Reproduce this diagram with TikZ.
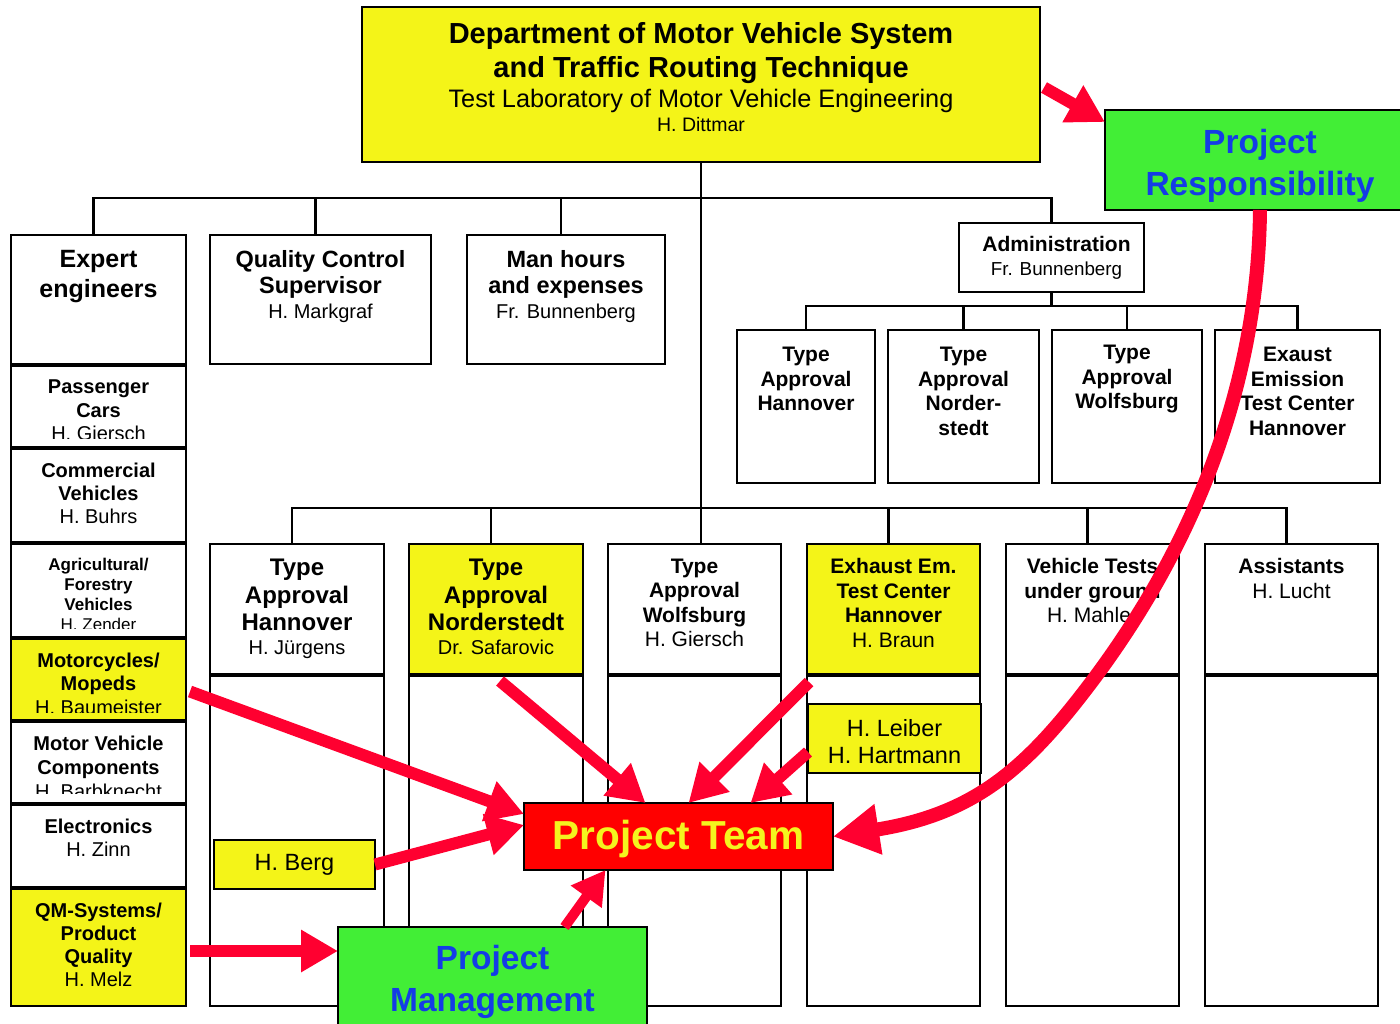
\documentclass[tikz,border=0pt]{standalone}
\usepackage{fontspec}
\setmainfont{Liberation Sans}
\usetikzlibrary{positioning,arrows.meta}
\definecolor{yel}{RGB}{244,244,24}
\definecolor{grn}{RGB}{66,238,54}
\definecolor{blu}{RGB}{20,60,230}
\definecolor{arrowred}{RGB}{255,0,48}
\definecolor{teamyel}{RGB}{244,244,30}
\newcommand{\fsz}[2]{\fontsize{#1}{#2}\selectfont}

\begin{document}
\begin{tikzpicture}[x=1pt, y=-1pt,
    box/.style={draw, line width=2.5pt, fill=white, inner sep=0pt, outer sep=0pt},
    txt/.style={inner sep=0pt, align=center},
    conn/.style={line width=2.5pt},
    redarrow/.style={draw=arrowred, line width=12pt, -{Triangle[length=37pt,width=40pt]}},
    smallarrow/.style={draw=arrowred, line width=10pt, -{Triangle[length=33pt,width=36pt]}},
    bigarrow/.style={draw=arrowred, line width=14pt, -{Triangle[length=46pt,width=48pt]}}]
    \useasboundingbox (0,0) rectangle (1400,1023);
    \clip (0,0) rectangle (1400,1023);

    \node[box, fill=yel, minimum width=678pt, minimum height=155pt] (top) at (701,84.5) {};
    \node[txt, below=15.5pt of top.north, font=\fsz{29}{34}\bfseries] (top-t)
      {Department of Motor Vehicle System\\and Traffic Routing Technique\\[-4pt]{\fsz{25.3}{30}\mdseries Test Laboratory of Motor Vehicle Engineering}\\[-10pt]{\fsz{19.5}{21}\mdseries H. Dittmar}};

    \coordinate (bar1) at (700,198);
    \coordinate (bar2) at (700,508);
    \coordinate (bar3) at (1052,306);

    \node[box, minimum width=175pt, minimum height=129pt] (ee) at (98.5,299.5) {};
    \node[txt, below=15pt of ee.north, font=\fsz{25}{30}\bfseries] (ee-t) {Expert\\engineers};
    \node[box, minimum width=175pt, minimum height=81pt] (pc) at (98.5,406.5) {};
    \begin{scope}
      \clip (pc.north west) rectangle ([yshift=9pt]pc.south east);
      \node[txt, below=13.6pt of pc.north, font=\fsz{20}{23.5}\bfseries] (pc-t) {Passenger\\Cars\\{\mdseries H. Giersch}};
    \end{scope}
    \node[box, minimum width=175pt, minimum height=93pt] (cv) at (98.5,495.5) {};
    \node[txt, below=13.6pt of cv.north, font=\fsz{20}{23}\bfseries] (cv-t) {Commercial\\Vehicles\\{\mdseries H. Buhrs}};
    \node[box, minimum width=175pt, minimum height=93pt] (af) at (98.5,590.5) {};
    \begin{scope}
      \clip (af.north west) rectangle ([yshift=9pt]af.south east);
      \node[txt, below=13.8pt of af.north, font=\fsz{17}{20}\bfseries] (af-t) {Agricultural/\\Forestry\\Vehicles\\{\mdseries H. Zender}};
    \end{scope}
    \node[box, fill=yel, minimum width=175pt, minimum height=81pt] (mc) at (98.5,679.5) {};
    \begin{scope}
      \clip (mc.north west) rectangle ([yshift=8pt]mc.south east);
      \node[txt, below=13.6pt of mc.north, font=\fsz{20}{23.5}\bfseries] (mc-t) {Motorcycles/\\Mopeds\\{\mdseries H. Baumeister}};
    \end{scope}
    \node[box, minimum width=175pt, minimum height=81pt] (mvc) at (98.5,762.5) {};
    \begin{scope}
      \clip (mvc.north west) rectangle ([yshift=10pt]mvc.south east);
      \node[txt, below=13.6pt of mvc.north, font=\fsz{20}{24}\bfseries] (mvc-t) {Motor Vehicle\\Components\\{\mdseries H. Barbknecht}};
    \end{scope}
    \node[box, minimum width=175pt, minimum height=82pt] (el) at (98.5,846) {};
    \node[txt, below=13.6pt of el.north, font=\fsz{20}{23}\bfseries] (el-t) {Electronics\\{\mdseries H. Zinn}};
    \node[box, fill=yel, minimum width=175pt, minimum height=117pt] (qm) at (98.5,947.5) {};
    \node[txt, below=13.6pt of qm.north, font=\fsz{20}{23}\bfseries] (qm-t) {QM-Systems/\\Product\\Quality\\{\mdseries H. Melz}};

    \node[box, minimum width=221pt, minimum height=129pt] (qcs) at (320.5,299.5) {};
    \node[txt, below=15pt of qcs.north, font=\fsz{23.5}{26}\bfseries] (qcs-t) {Quality Control\\Supervisor\\[-1pt]{\fsz{20}{23}\mdseries H. Markgraf}};
    \node[box, minimum width=198pt, minimum height=129pt] (mh) at (566,299.5) {};
    \node[txt, below=15pt of mh.north, font=\fsz{23.5}{26}\bfseries] (mh-t) {Man hours\\and expenses\\[-1pt]{\fsz{20}{23}\mdseries Fr. Bunnenberg}};

    \node[box, minimum width=185pt, minimum height=69pt] (adm) at (1051.5,257.5) {};
    \node[txt, below=13.2pt of {[xshift=5pt]adm.north}, font=\fsz{21}{24}\bfseries] (adm-t) {Administration\\{\fsz{18.8}{22}\mdseries Fr. Bunnenberg}};

    \node[box, minimum width=138pt, minimum height=153pt] (ta1) at (806,406.5) {};
    \node[txt, below=17pt of ta1.north, font=\fsz{21}{24.5}\bfseries] (ta1-t) {Type\\Approval\\Hannover};
    \node[box, minimum width=151pt, minimum height=153pt] (ta2) at (963.5,406.5) {};
    \node[txt, below=17pt of ta2.north, font=\fsz{21}{24.5}\bfseries] (ta2-t) {Type\\Approval\\Norder-\\stedt};
    \node[box, minimum width=150pt, minimum height=153pt] (ta3) at (1127,406.5) {};
    \node[txt, below=15pt of ta3.north, font=\fsz{21}{24.5}\bfseries] (ta3-t) {Type\\Approval\\Wolfsburg};
    \node[box, minimum width=165pt, minimum height=153pt] (ta4) at (1297.5,406.5) {};
    \node[txt, below=17pt of ta4.north, font=\fsz{21}{24.5}\bfseries] (ta4-t) {Exaust\\Emission\\Test Center\\Hannover};

    \node[box, minimum width=174pt, minimum height=130pt] (lo1) at (297,609) {};
    \node[box, minimum width=174pt, minimum height=330pt] (lo1b) at (297,841) {};
    \node[txt, below=15.2pt of lo1.north, font=\fsz{24}{27.5}\bfseries] (lo1-t) {Type\\Approval\\Hannover\\[-3.5pt]{\fsz{20}{23}\mdseries H. J\"urgens}};
    \node[box, fill=yel, minimum width=174pt, minimum height=130pt] (lo2) at (496,609) {};
    \node[box, minimum width=174pt, minimum height=330pt] (lo2b) at (496,841) {};
    \node[txt, below=15.2pt of lo2.north, font=\fsz{24}{27.5}\bfseries] (lo2-t) {Type\\Approval\\Norderstedt\\[-3.5pt]{\fsz{20}{23}\mdseries Dr. Safarovic}};
    \node[box, minimum width=173pt, minimum height=130pt] (lo3) at (694.5,609) {};
    \node[box, minimum width=173pt, minimum height=330pt] (lo3b) at (694.5,841) {};
    \node[txt, below=14.4pt of lo3.north, font=\fsz{21}{24.5}\bfseries] (lo3-t) {Type\\Approval\\Wolfsburg\\{\mdseries H. Giersch}};
    \node[box, fill=yel, minimum width=173pt, minimum height=130pt] (lo4) at (893.5,609) {};
    \node[box, minimum width=173pt, minimum height=330pt] (lo4b) at (893.5,841) {};
    \node[txt, below=14.4pt of lo4.north, font=\fsz{21}{24.5}\bfseries] (lo4-t) {Exhaust Em.\\Test Center\\Hannover\\{\mdseries H. Braun}};
    \node[box, minimum width=173pt, minimum height=130pt] (lo5) at (1092.5,609) {};
    \node[box, minimum width=173pt, minimum height=330pt] (lo5b) at (1092.5,841) {};
    \node[txt, below=14.4pt of lo5.north, font=\fsz{21}{24.5}\bfseries] (lo5-t) {Vehicle Tests\\under ground\\{\mdseries H. Mahler}};
    \node[box, minimum width=173pt, minimum height=130pt] (lo6) at (1291.5,609) {};
    \node[box, minimum width=173pt, minimum height=330pt] (lo6b) at (1291.5,841) {};
    \node[txt, below=14.4pt of lo6.north, font=\fsz{21}{24.5}\bfseries] (lo6-t) {Assistants\\{\mdseries H. Lucht}};

    \draw[conn] (top.south) -- (top.south |- lo3.north);
    \draw[conn] ([xshift=-5pt]ee.north) |- (bar1) -| (adm.north);
    \draw[conn] ([xshift=-5pt]qcs.north) -- ([xshift=-5pt]qcs.north |- bar1);
    \draw[conn] ([xshift=-5pt]mh.north) -- ([xshift=-5pt]mh.north |- bar1);
    \draw[conn] (adm.south) -- (adm.south |- bar3);
    \draw[conn] (ta1.north) |- (bar3) -| (ta4.north);
    \draw[conn] (ta2.north) -- (ta2.north |- bar3);
    \draw[conn] (ta3.north) -- (ta3.north |- bar3);
    \draw[conn] ([xshift=-5pt]lo1.north) |- (bar2) -| ([xshift=-5pt]lo6.north);
    \draw[conn] ([xshift=-5pt]lo2.north) -- ([xshift=-5pt]lo2.north |- bar2);
    \draw[conn] ([xshift=-5pt]lo4.north) -- ([xshift=-5pt]lo4.north |- bar2);
    \draw[conn] ([xshift=-5pt]lo5.north) -- ([xshift=-5pt]lo5.north |- bar2);

    \node[box, fill=yel, minimum width=173pt, minimum height=69pt] (lh) at (894.5,738.5) {};
    \node[txt, below=15.6pt of lh.north, font=\fsz{23.5}{27}] (lh-t) {H. Leiber\\H. Hartmann};
    \node[box, fill=yel, minimum width=161pt, minimum height=49pt, font=\fsz{23.5}{27}] (hb) at (294.5,864.5) {H. Berg};
    \node[box, fill=red, minimum width=309pt, minimum height=67pt, font=\fsz{40.5}{44}\bfseries, text=teamyel, text depth=2.5pt] (pt) at (678.5,836.5) {Project Team};
    \node[box, fill=grn, minimum width=309pt, minimum height=118pt] (pm) at (492.5,986) {};
    \node[txt, below=18pt of pm.north, font=\fsz{33.5}{42}\bfseries, text=blu] (pm-t) {Project\\Management};
    \node[box, fill=grn, minimum width=310pt, minimum height=100pt] (pr) at (1260,160) {};
    \node[txt, below=19pt of pr.north, font=\fsz{33.5}{42}\bfseries, text=blu] (pr-t) {Project\\Responsibility};

    \draw[redarrow] ([shift={(4pt,-3pt)}]top.east) -- ([yshift=-12pt]pr.north west);
    \draw[redarrow] ([shift={(4pt,-12pt)}]mc.east) -- ([yshift=-11pt]pt.north west);
    \draw[redarrow] ([shift={(4pt,-5pt)}]lo2b.north) -- ([xshift=-33pt]pt.north);
    \draw[redarrow] ([shift={(2pt,-6pt)}]lo4b.north west) -- ([xshift=10pt]pt.north);
    \draw[redarrow] ([yshift=-13.5pt]lh.west) -- ([xshift=72pt]pt.north);
    \draw[redarrow] (hb.east) -- ([yshift=-22pt]pt.north west);
    \draw[redarrow] ([shift={(4pt,-3.5pt)}]qm.east) -- ([yshift=-24pt]pm.north west);
    \draw[smallarrow] ([xshift=72pt]pm.north) -- ([xshift=-73pt]pt.south);
    \draw[bigarrow] (pr.south) .. controls (1258,400) and (1183,560) .. (1093,680)
      .. controls (1027,768) and (975,814) .. (pt.east);
  \end{tikzpicture}
\end{document}
